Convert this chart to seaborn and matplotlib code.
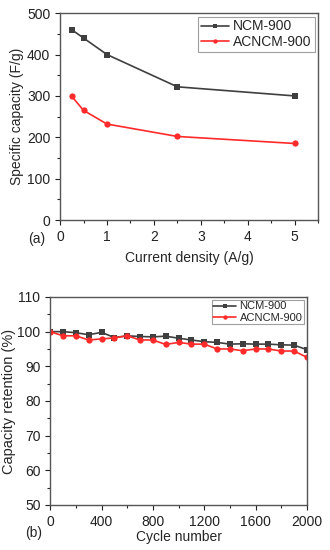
import matplotlib
matplotlib.use("Agg")
import matplotlib.pyplot as plt
import pandas as pd
import numpy as np
import seaborn as sns
from matplotlib.ticker import MultipleLocator

# panel (a) - rate capability
density = [0.25, 0.5, 1, 2.5, 5]
ncm_cap = [460, 440, 400, 322, 300]
acncm_cap = [299, 265, 232, 202, 185]

# panel (b) - cycling
cycles = list(range(0, 2001, 100))
ncm_ret = [100, 100, 99.7, 99.1, 99.8, 98.3, 98.8, 98.6, 98.5, 98.7, 98.1,
           97.6, 97.1, 96.9, 96.4, 96.5, 96.4, 96.4, 96.2, 96.1, 94.8]
acncm_ret = [100, 98.8, 98.8, 97.6, 97.9, 98.2, 98.8, 97.6, 97.6, 96.3, 96.9,
             96.4, 96.4, 95.0, 95.0, 94.5, 95.0, 95.0, 94.4, 94.4, 92.6]

sns.set_style("ticks")
plt.rcParams['font.family'] = ['Liberation Sans', 'DejaVu Sans']

df_a = pd.DataFrame({'x': density * 2,
                     'y': ncm_cap + acncm_cap,
                     'sample': ['NCM-900'] * 5 + ['ACNCM-900'] * 5})
df_b = pd.DataFrame({'x': cycles * 2,
                     'y': ncm_ret + acncm_ret,
                     'sample': ['NCM-900'] * len(cycles) + ['ACNCM-900'] * len(cycles)})

pal = {'NCM-900': '#3f3f3f', 'ACNCM-900': '#ff2a2a'}
marks = {'NCM-900': 's', 'ACNCM-900': 'o'}

fig = plt.figure(figsize=(3.3, 5.5), dpi=100)
ax1 = fig.add_axes([0.182, 0.60, 0.782, 0.376])
ax2 = fig.add_axes([0.152, 0.082, 0.778, 0.378])

for ax, df in [(ax1, df_a), (ax2, df_b)]:
    sns.lineplot(data=df, x='x', y='y', hue='sample', style='sample',
                 palette=pal, markers=marks, dashes=False, ax=ax,
                 markersize=4.5, markeredgewidth=0, linewidth=1.2, legend=False)
    for s in ax.spines.values():
        s.set_color('#555555')
        s.set_linewidth(1.0)
    ax.tick_params(direction='out', labelsize=10, length=3.5, width=0.8,
                   colors='#222222')
    ax.tick_params(which='minor', direction='out', length=2, width=0.8)

def add_legend(ax, size, pad, space):
    leg = ax.legend(ax.get_lines()[:2], ['NCM-900', 'ACNCM-900'],
                    loc='upper right', bbox_to_anchor=(1.0, 1.0),
                    fontsize=size, frameon=True, fancybox=False,
                    handlelength=2.0, borderpad=pad, labelspacing=space,
                    handletextpad=0.35, borderaxespad=0.25, markerscale=0.7)
    leg.get_frame().set_edgecolor('#888888')
    leg.get_frame().set_linewidth(0.8)
    return leg

ax1.set_xlim(0, 5.5)
ax1.set_ylim(0, 500)
ax1.xaxis.set_major_locator(MultipleLocator(1))
ax1.xaxis.set_minor_locator(MultipleLocator(0.5))
ax1.yaxis.set_major_locator(MultipleLocator(100))
ax1.yaxis.set_minor_locator(MultipleLocator(50))
ax1.set_xlabel('Current density (A/g)', fontsize=10, labelpad=5)
ax1.set_ylabel('Specific capacity (F/g)', fontsize=10, labelpad=2)
ax1.text(-0.124, -0.092, '(a)', transform=ax1.transAxes, fontsize=10,
         va='center')
add_legend(ax1, 10, 0.2, 0.1)

ax2.set_xlim(0, 2000)
ax2.set_ylim(50, 110)
ax2.xaxis.set_major_locator(MultipleLocator(400))
ax2.xaxis.set_minor_locator(MultipleLocator(200))
ax2.yaxis.set_major_locator(MultipleLocator(10))
ax2.yaxis.set_minor_locator(MultipleLocator(5))
ax2.set_xlabel('Cycle number', fontsize=10, labelpad=1)
ax2.set_ylabel('Capacity retention (%)', fontsize=10.5, labelpad=1)
ax2.text(-0.097, -0.135, '(b)', transform=ax2.transAxes, fontsize=10,
         va='center')
add_legend(ax2, 8, 0.15, 0.1)

fig.savefig('out.png', dpi=100)
